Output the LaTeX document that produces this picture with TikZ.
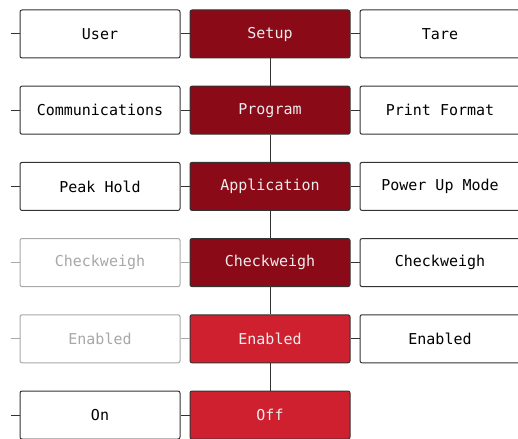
\documentclass[tikz,border=0pt]{standalone}
\usepackage{fontspec}
\setmonofont{DejaVu Sans Mono}
\usetikzlibrary{positioning}
\definecolor{darkred}{HTML}{8A0A18}
\definecolor{brightred}{HTML}{CF2030}
\definecolor{lineg}{HTML}{333333}
\definecolor{fadeg}{HTML}{A8A8A8}
\begin{document}
\begin{tikzpicture}[x=1pt,y=-1pt,font=\ttfamily\fontsize{15}{18}\selectfont,
  box/.style={rectangle,draw=lineg,line width=1pt,rounded corners=2pt,
    minimum width=160pt,minimum height=48pt,inner sep=0pt,fill=white},
  menu/.style={box,fill=darkred,text=white!93!black},
  value/.style={box,fill=brightred,text=white!93!black},
  faded/.style={box,draw=fadeg,text=fadeg},
  wire/.style={draw=lineg,line width=1pt},
  fwire/.style={draw=fadeg,line width=1pt}]
  \useasboundingbox (0,0) rectangle (518,438);
  \clip (0,0) rectangle (518,438);
  % --- middle column: menu path ---
  \node[menu]  (m1) at (270,34)    {Setup};
  \node[menu]  (m2) at (270,110.2) {Program};
  \node[menu]  (m3) at (270,186.4) {Application};
  \node[menu]  (m4) at (270,262.6) {Checkweigh};
  \node[value] (m5) at (270,338.8) {Enabled};
  \node[value] (m6) at (270,415)   {Off};
  % --- left column ---
  \node[box]   (l1) at (100,34)    {User};
  \node[box]   (l2) at (100,110.2) {Communications};
  \node[box]   (l3) at (100,186.4) {Peak Hold};
  \node[faded] (l4) at (100,262.6) {Checkweigh};
  \node[faded] (l5) at (100,338.8) {Enabled};
  \node[box]   (l6) at (100,415)   {On};
  % --- right column ---
  \node[box] (r1) at (440,34)    {Tare};
  \node[box] (r2) at (440,110.2) {Print Format};
  \node[box] (r3) at (440,186.4) {Power Up Mode};
  \node[box] (r4) at (440,262.6) {Checkweigh};
  \node[box] (r5) at (440,338.8) {Enabled};
  % --- stubs on the far left ---
  \foreach \i in {1,...,6}
    \coordinate[left=9pt of l\i.west] (s\i);
  \foreach \i in {1,2,3,6}
    \draw[wire] (s\i) -- (l\i.west);
  \foreach \i in {4,5}
    \draw[fwire] (s\i) -- (l\i.west);
  % --- connectors ---
  \foreach \i in {1,2,3,6}
    \draw[wire] (l\i.east) -- (m\i.west);
  \foreach \i in {4,5}
    \draw[fwire] (l\i.east) -- (m\i.west);
  \foreach \i in {1,...,5}
    \draw[wire] (m\i.east) -- (r\i.west);
  \foreach \i/\j in {1/2,2/3,3/4,4/5,5/6}
    \draw[wire] (m\i.south) -- (m\j.north);
\end{tikzpicture}
\end{document}
